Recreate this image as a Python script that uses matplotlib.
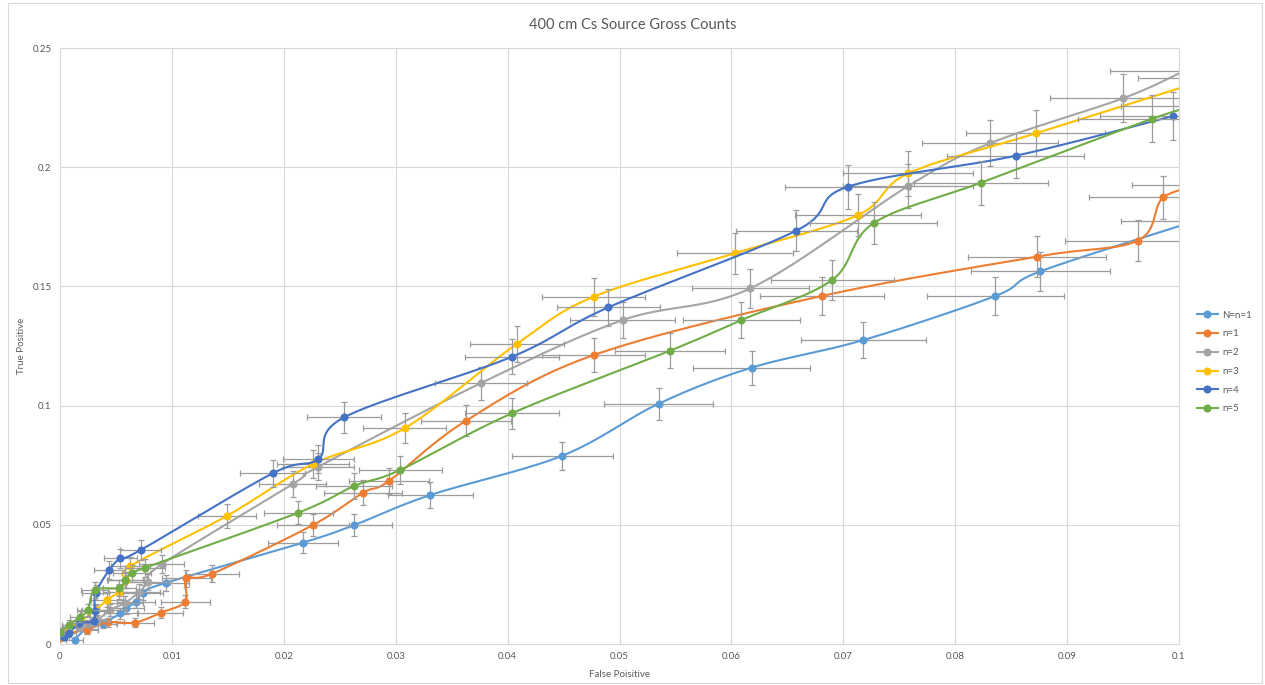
import matplotlib
matplotlib.use("Agg")
import matplotlib.pyplot as plt
import numpy as np
from matplotlib.lines import Line2D
from matplotlib.patches import Rectangle

plt.rcParams['font.family'] = ['Lato', 'DejaVu Sans']

labels = ["N=n=1", "n=1", "n=2", "n=3", "n=4", "n=5"]
colors = ["#5B9BD5", "#ED7D31", "#A5A5A5", "#FFC000", "#4472C4", "#70AD47"]

# N=n=1
fp_a = [0.0013, 0.0024, 0.0038, 0.0054, 0.0059, 0.0068, 0.0074, 0.0095, 0.0217, 0.0263, 0.0331,
        0.0449, 0.0535, 0.0618, 0.0718, 0.0836, 0.0876, 0.1015]
tp_a = [0.0018, 0.0065, 0.0085, 0.0129, 0.015, 0.0178, 0.0215, 0.0257, 0.0425, 0.0499, 0.0625,
        0.079, 0.1008, 0.1159, 0.1275, 0.146, 0.1563, 0.1775]
xe_a = [0.0008, 0.001, 0.0013, 0.0015, 0.0016, 0.0017, 0.0018, 0.002, 0.0031, 0.0034, 0.0038,
        0.0045, 0.0049, 0.0052, 0.0056, 0.0061, 0.0062, 0.0067]
ye_a = [0.0009, 0.0017, 0.0019, 0.0024, 0.0026, 0.0028, 0.0031, 0.0034, 0.0043, 0.0047, 0.0053,
        0.0059, 0.0067, 0.0071, 0.0075, 0.008, 0.0083, 0.0088]

# n=1
fp_1 = [0.0, 0.0003, 0.0024, 0.0043, 0.0067, 0.009, 0.0112, 0.0113, 0.0136, 0.0226, 0.0271,
        0.0294, 0.0363, 0.0477, 0.0681, 0.0873, 0.0963, 0.0986, 0.1025]
tp_1 = [0.0025, 0.004, 0.006, 0.0091, 0.009, 0.0131, 0.0178, 0.0275, 0.0295, 0.0499, 0.0635,
        0.0684, 0.0937, 0.1212, 0.146, 0.1625, 0.1692, 0.1873, 0.1925]
xe_1 = [0.0004, 0.0004, 0.001, 0.0014, 0.0017, 0.002, 0.0022, 0.0022, 0.0024, 0.0032, 0.0035,
        0.0036, 0.004, 0.0046, 0.0055, 0.0062, 0.0065, 0.0066, 0.0067]
ye_1 = [0.001, 0.0013, 0.0016, 0.002, 0.002, 0.0024, 0.0028, 0.0035, 0.0036, 0.0047, 0.0053,
        0.0055, 0.0064, 0.0073, 0.008, 0.0085, 0.0086, 0.0091, 0.0092]

# n=2
fp_2 = [0.0003, 0.0018, 0.0033, 0.0045, 0.0058, 0.0071, 0.0079, 0.0091, 0.0208, 0.0231, 0.0376,
        0.0503, 0.0617, 0.0758, 0.0831, 0.095, 0.1005]
tp_2 = [0.0055, 0.0073, 0.0101, 0.0143, 0.0172, 0.0219, 0.0261, 0.0335, 0.0671, 0.0744, 0.1094,
        0.1359, 0.1492, 0.1921, 0.21, 0.2289, 0.2405]
xe_2 = [0.0004, 0.0009, 0.0012, 0.0014, 0.0016, 0.0018, 0.0019, 0.002, 0.003, 0.0032, 0.0041,
        0.0047, 0.0052, 0.0058, 0.0061, 0.0065, 0.0067]
ye_2 = [0.0016, 0.0018, 0.0021, 0.0025, 0.0028, 0.0031, 0.0034, 0.0038, 0.0054, 0.0057, 0.0069,
        0.0077, 0.0081, 0.0092, 0.0096, 0.01, 0.0103]

# n=3
fp_3 = [0.0, 0.0009, 0.0018, 0.0032, 0.0042, 0.0053, 0.0059, 0.0063, 0.0149, 0.0226, 0.0308,
        0.0408, 0.0477, 0.0603, 0.0713, 0.0758, 0.0872, 0.103]
tp_3 = [0.0035, 0.0073, 0.0095, 0.0143, 0.0185, 0.0219, 0.0268, 0.0327, 0.0537, 0.0755, 0.0905,
        0.1258, 0.1457, 0.1639, 0.1799, 0.1974, 0.2142, 0.2375]
xe_3 = [0.0004, 0.0006, 0.0009, 0.0012, 0.0014, 0.0015, 0.0016, 0.0017, 0.0026, 0.0032, 0.0037,
        0.0042, 0.0046, 0.0052, 0.0056, 0.0058, 0.0062, 0.0067]
ye_3 = [0.0012, 0.0018, 0.002, 0.0025, 0.0029, 0.0031, 0.0034, 0.0038, 0.0049, 0.0058, 0.0063,
        0.0074, 0.008, 0.0085, 0.0089, 0.0093, 0.0097, 0.0102]

# n=4
fp_4 = [0.0004, 0.0008, 0.0017, 0.003, 0.0031, 0.0032, 0.0044, 0.0054, 0.0072, 0.019, 0.0231,
        0.0254, 0.0404, 0.049, 0.0658, 0.0704, 0.0854, 0.0995]
tp_4 = [0.003, 0.0045, 0.0087, 0.0095, 0.014, 0.0215, 0.031, 0.0359, 0.0394, 0.0716, 0.0777,
        0.0951, 0.1205, 0.1412, 0.1734, 0.1918, 0.2048, 0.2215]
xe_4 = [0.0004, 0.0006, 0.0009, 0.0012, 0.0012, 0.0012, 0.0014, 0.0015, 0.0018, 0.0029, 0.0032,
        0.0033, 0.0042, 0.0046, 0.0054, 0.0056, 0.0061, 0.0066]
ye_4 = [0.0012, 0.0014, 0.002, 0.002, 0.0025, 0.0031, 0.0037, 0.004, 0.0042, 0.0056, 0.0059,
        0.0065, 0.0073, 0.0079, 0.0087, 0.0092, 0.0095, 0.0099]

# n=5
fp_5 = [0.0, 0.0008, 0.0018, 0.0025, 0.0031, 0.0053, 0.0058, 0.0064, 0.0076, 0.0213, 0.0263,
        0.0304, 0.0404, 0.0545, 0.0609, 0.069, 0.0727, 0.0823, 0.0976, 0.1015]
tp_5 = [0.005, 0.008, 0.0115, 0.0143, 0.0226, 0.0235, 0.0268, 0.0297, 0.032, 0.0551, 0.0663,
        0.073, 0.0968, 0.123, 0.1359, 0.1527, 0.1765, 0.1935, 0.2203, 0.2255]
xe_5 = [0.0004, 0.0006, 0.0009, 0.001, 0.0012, 0.0015, 0.0016, 0.0017, 0.0018, 0.0031, 0.0034,
        0.0037, 0.0042, 0.0049, 0.0052, 0.0055, 0.0057, 0.006, 0.0066, 0.0067]
ye_5 = [0.0015, 0.0019, 0.0023, 0.0025, 0.0032, 0.0032, 0.0034, 0.0036, 0.0038, 0.0049, 0.0054,
        0.0057, 0.0065, 0.0074, 0.0077, 0.0082, 0.0088, 0.0092, 0.0099, 0.01]

series = [(fp_a, tp_a, xe_a, ye_a), (fp_1, tp_1, xe_1, ye_1), (fp_2, tp_2, xe_2, ye_2),
          (fp_3, tp_3, xe_3, ye_3), (fp_4, tp_4, xe_4, ye_4), (fp_5, tp_5, xe_5, ye_5)]


def smooth(x, y, steps=30):
    # Catmull-Rom style bezier through the points, like Excel's smoothed line
    p = np.column_stack([x, y]).astype(float)
    p = np.vstack([p[0], p, p[-1]])
    out = []
    t = np.linspace(0, 1, steps)[:, None]
    for i in range(1, len(p) - 2):
        p0, p1, p2, p3 = p[i - 1], p[i], p[i + 1], p[i + 2]
        c1 = p1 + (p2 - p0) / 6
        c2 = p2 - (p3 - p1) / 6
        seg = ((1 - t) ** 3) * p1 + 3 * ((1 - t) ** 2) * t * c1 + 3 * (1 - t) * t ** 2 * c2 + t ** 3 * p2
        out.append(seg)
    out = np.vstack(out)
    return out[:, 0], out[:, 1]


fig = plt.figure(figsize=(12.65, 6.85), dpi=100)
ax = fig.add_axes([60 / 1265, 1 - 644 / 685, (1179 - 60) / 1265, (644 - 48) / 685])

for i, (x, y, xe, ye) in enumerate(series):
    z = 3 + i
    ax.errorbar(x, y, xerr=xe, yerr=ye, fmt="none", ecolor="#9c9c9c", elinewidth=0.9,
                capsize=2, capthick=0.9, zorder=z)
    sx, sy = smooth(x, y)
    ax.plot(sx, sy, color=colors[i], lw=1.5, zorder=z + 0.1)
    ax.plot(x, y, ls="none", marker="o", ms=4.8, color=colors[i], zorder=z + 0.2)

ax.set_xlim(0, 0.1)
ax.set_ylim(0, 0.25)
ax.set_xticks(np.arange(0, 0.1001, 0.01))
ax.set_yticks([0, 0.05, 0.1, 0.15, 0.2, 0.25])
ax.set_xticklabels(["0", "0.01", "0.02", "0.03", "0.04", "0.05", "0.06", "0.07", "0.08", "0.09", "0.1"])
ax.set_yticklabels(["0", "0.05", "0.1", "0.15", "0.2", "0.25"])
ax.tick_params(length=0, labelsize=7, labelcolor="#595959", pad=6)
ax.grid(True, color="#D9D9D9", lw=0.8)
ax.set_axisbelow(True)
for s in ax.spines.values():
    s.set_color("#D9D9D9")
    s.set_linewidth(0.8)

ax.set_xlabel("False Poisitive", fontsize=7, color="#595959", labelpad=6)
ax.set_ylabel("True Positive", fontsize=7, color="#595959", labelpad=5)
fig.text(0.5, 1 - 25 / 685, "400 cm Cs Source Gross Counts", ha="center", va="center",
         fontsize=10.5, color="#595959")

handles = [Line2D([], [], color=c, lw=1.5, marker="o", ms=4.8) for c in colors]
fig.legend(handles, labels, loc="upper left", bbox_to_anchor=(1188 / 1265, 1 - 302 / 685),
           frameon=False, fontsize=7, labelspacing=1.0, handlelength=2.2, handletextpad=0.4,
           labelcolor="#595959")

fig.patches.append(Rectangle((8 / 1265, 2 / 685), 1254 / 1265, 680 / 685, transform=fig.transFigure,
                             fill=False, edgecolor="#D9D9D9", lw=0.8))

fig.savefig("out.png", dpi=100)
